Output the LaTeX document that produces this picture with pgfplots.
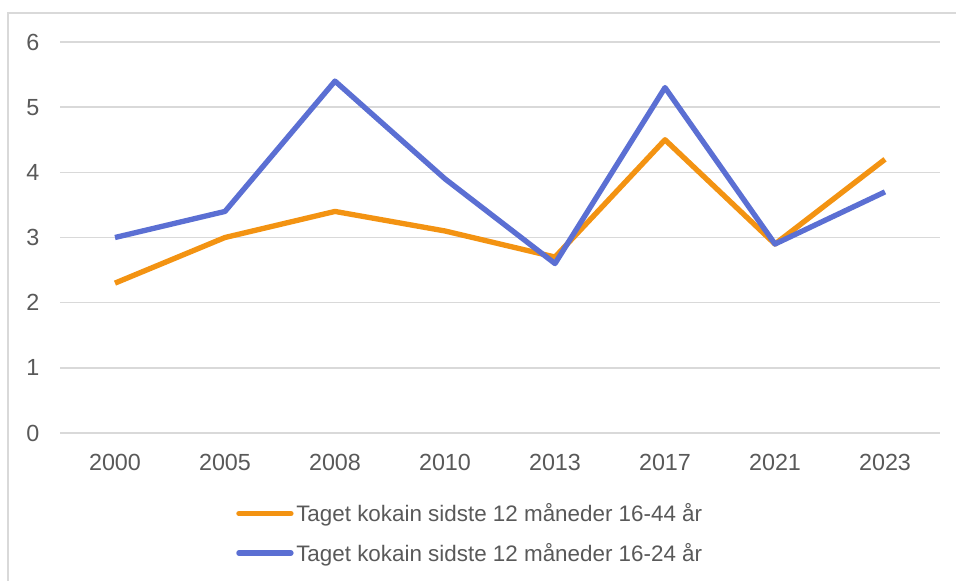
\documentclass[border=0pt]{standalone}
\usepackage{pgfplots}
\pgfplotsset{compat=1.18}
\usepackage{fontspec}
\setmainfont{Liberation Sans}
\definecolor{txt}{HTML}{595959}
\definecolor{gridc}{HTML}{D9D9D9}
\definecolor{orangeS}{HTML}{F39312}
\definecolor{blueS}{HTML}{5B6FD3}
\begin{document}
\begin{tikzpicture}
\useasboundingbox (0pt,0pt) rectangle (717pt,435.75pt);
\draw[gridc,line width=1.2pt] (6pt,0pt) -- (6pt,426pt) -- (717pt,426pt);
\begin{axis}[
  at={(45pt,111pt)}, anchor=south west,
  scale only axis, width=660pt, height=293.25pt,
  xmin=-0.5, xmax=7.5, ymin=0, ymax=6,
  xtick={0,...,7},
  xticklabels={2000,2005,2008,2010,2013,2017,2021,2023},
  ytick={0,1,2,3,4,5,6},
  axis line style={draw=none},
  major tick length=0pt,
  ymajorgrids, grid style={gridc,line width=1.2pt},
  /pgf/number format/assume math mode=true,
  tick label style={font=\fontsize{17.5}{21}\selectfont, text=txt},
  yticklabel style={xshift=-12pt},
  xticklabel style={yshift=-12pt},
  legend style={draw=none, fill=none, at={(axis description cs:0.2,-0.173)}, anchor=north west,
     font=\fontsize{16.8}{21}\selectfont, text=txt, row sep=10.5pt, inner sep=0pt},
  legend cell align=left,
  legend image code/.code={\draw[#1,line cap=round] (0pt,0pt) -- (39pt,0pt);},
  clip=false,
]
\addplot[orangeS, line width=4pt, line join=round] coordinates {
 (0,2.3) (1,3.0) (2,3.4) (3,3.1) (4,2.7) (5,4.5) (6,2.9) (7,4.2)};
\addlegendentry{Taget kokain sidste 12 måneder 16-44 år}
\addplot[blueS, line width=4pt, line join=round] coordinates {
 (0,3.0) (1,3.4) (2,5.4) (3,3.9) (4,2.6) (5,5.3) (6,2.9) (7,3.7)};
\addlegendentry{Taget kokain sidste 12 måneder 16-24 år}
\end{axis}
\end{tikzpicture}
\end{document}
